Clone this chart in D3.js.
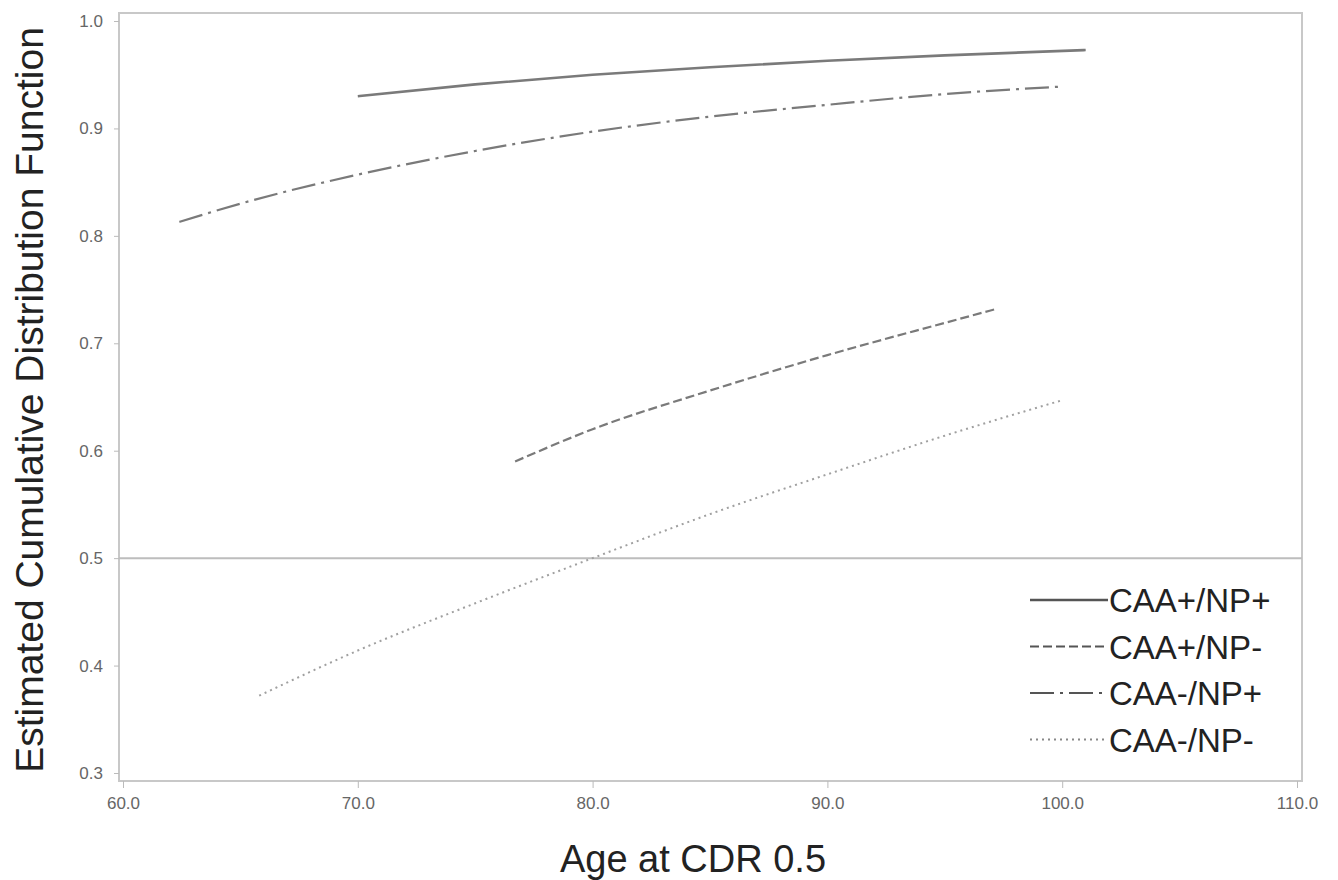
<!doctype html>
<html lang="en">
<head>
    <meta charset="utf-8">
    <title>Estimated CDF by age at CDR 0.5</title>
    <script src="https://cdn.jsdelivr.net/npm/d3@7"></script>
    <style>
        body { margin: 0; background: #fff; }
        svg { display: block; font-family: "Liberation Sans", Arial, sans-serif; }
        .tick text { fill: #666; font-size: 17px; }
        .tick line { stroke: #bbb; }
        .domain { stroke: none; }
    </style>
</head>
<body>
    <svg></svg>
    <script>
        var width = 1338;
        var height = 880;

        // data
        var groups = ['CAA+/NP+', 'CAA+/NP-', 'CAA-/NP+', 'CAA-/NP-'];
        var agePosPos = [70, 75, 80, 85, 90, 95, 101];
        var cdfPosPos = [0.930, 0.941, 0.950, 0.957, 0.963, 0.968, 0.973];
        var agePosNeg = [76.7, 80, 85, 90, 95, 97.2];
        var cdfPosNeg = [0.590, 0.620, 0.656, 0.689, 0.719, 0.732];
        var ageNegPos = [62.4, 65, 70, 75, 80, 85, 90, 95, 100];
        var cdfNegPos = [0.813, 0.830, 0.857, 0.879, 0.897, 0.911, 0.922, 0.932, 0.939];
        var ageNegNeg = [65.8, 70, 75, 80, 85, 90, 95, 100];
        var cdfNegNeg = [0.372, 0.414, 0.458, 0.500, 0.541, 0.578, 0.614, 0.647];
        var xTicks = [60, 70, 80, 90, 100, 110];
        var yTicks = [0.3, 0.4, 0.5, 0.6, 0.7, 0.8, 0.9, 1.0];
        var refLine = 0.5;

        var series = [
            { name: groups[0], ages: agePosPos, cdf: cdfPosPos, dash: null, width: 2.6 },
            { name: groups[1], ages: agePosNeg, cdf: cdfPosNeg, dash: '9,4', width: 2.2 },
            { name: groups[2], ages: ageNegPos, cdf: cdfNegPos, dash: '24,6,3,6', width: 2.2 },
            { name: groups[3], ages: ageNegNeg, cdf: cdfNegNeg, dash: '2,4', width: 2 }
        ];

        var frame = { left: 119, right: 1302, top: 13, bottom: 781 };

        var xScale = d3.scaleLinear().domain([60, 110]).range([123, 1297]);
        var yScale = d3.scaleLinear().domain([0.3, 1.0]).range([773, 21]);

        var svg = d3.select('svg').attr('width', width).attr('height', height);

        // frame
        svg.append('rect')
            .attr('x', frame.left).attr('y', frame.top)
            .attr('width', frame.right - frame.left)
            .attr('height', frame.bottom - frame.top)
            .attr('fill', 'none').attr('stroke', '#c8c8c8').attr('stroke-width', 2);

        // axes
        svg.append('g')
            .attr('transform', 'translate(0,' + frame.bottom + ')')
            .call(d3.axisBottom(xScale).tickValues(xTicks).tickFormat(d3.format('.1f')).tickSize(7).tickPadding(9));
        svg.append('g')
            .attr('transform', 'translate(' + frame.left + ',0)')
            .call(d3.axisLeft(yScale).tickValues(yTicks).tickFormat(d3.format('.1f')).tickSize(5).tickPadding(11));

        // reference line
        svg.append('line')
            .attr('x1', frame.left).attr('x2', frame.right)
            .attr('y1', yScale(refLine)).attr('y2', yScale(refLine))
            .attr('stroke', '#bdbdbd').attr('stroke-width', 2);

        var line = d3.line()
            .x(function (d) { return xScale(d[0]); })
            .y(function (d) { return yScale(d[1]); })
            .curve(d3.curveMonotoneX);

        svg.selectAll('path.curve')
            .data(series)
            .enter()
            .append('path')
            .attr('class', 'curve')
            .attr('d', function (d) { return line(d.ages.map(function (a, i) { return [a, d.cdf[i]]; })); })
            .attr('fill', 'none')
            .attr('stroke', function (d, i) { return i === 3 ? '#a0a0a0' : '#7a7a7a'; })
            .attr('stroke-width', function (d) { return d.width; })
            .attr('stroke-dasharray', function (d) { return d.dash; });

        // legend
        var legend = svg.selectAll('g.legend')
            .data(series)
            .enter()
            .append('g')
            .attr('class', 'legend')
            .attr('transform', function (d, i) { return 'translate(1030,' + (600 + i * 46.5) + ')'; });

        legend.append('line')
            .attr('x1', 0).attr('x2', 78).attr('y1', 0).attr('y2', 0)
            .attr('stroke', function (d, i) { return i === 3 ? '#888' : '#555'; })
            .attr('stroke-width', function (d) { return d.width; })
            .attr('stroke-dasharray', function (d) { return d.dash; });

        legend.append('text')
            .attr('x', 79).attr('y', 12)
            .attr('font-size', '33px')
            .attr('fill', '#222')
            .text(function (d) { return d.name; });

        // axis titles
        svg.append('text')
            .attr('x', 693).attr('y', 872)
            .attr('text-anchor', 'middle')
            .attr('font-size', '38px').attr('fill', '#222')
            .text('Age at CDR 0.5');

        svg.append('text')
            .attr('transform', 'translate(43,400) rotate(-90)')
            .attr('text-anchor', 'middle')
            .attr('font-size', '39px').attr('fill', '#222')
            .text('Estimated Cumulative Distribution Function');
    </script>
</body>
</html>
